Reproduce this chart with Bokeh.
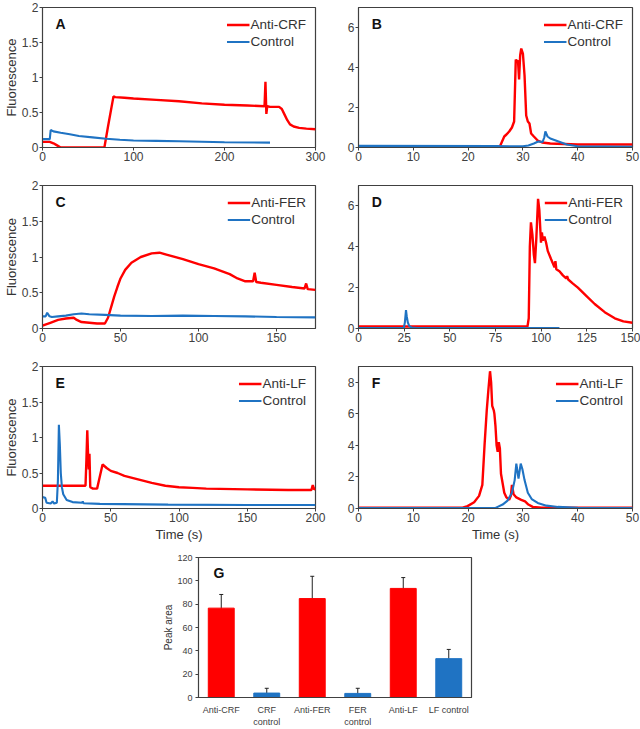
from bokeh.plotting import figure
from bokeh.models import (Range1d, FixedTicker, NumeralTickFormatter, Legend, LegendItem,
                          Label, ColumnDataSource, Whisker, FactorRange, TeeHead)
from bokeh.layouts import column, row
from bokeh.embed import file_html
from bokeh.resources import INLINE

# ---------------- data ----------------
# Panel A (Anti-CRF, long time scale)
A_red_x = [0, 8, 12, 16, 20, 68, 72, 78, 80, 90, 100, 125, 150, 175, 200, 225, 244, 245, 246, 247, 250, 258, 260, 263, 266, 269, 272, 276, 282, 290, 300]
A_red_y = [0.08, 0.08, 0.06, 0.03, 0.0, 0.0, 0.3, 0.73, 0.72, 0.71, 0.70, 0.68, 0.66, 0.63, 0.61, 0.60, 0.59, 0.94, 0.48, 0.59, 0.58, 0.58, 0.58, 0.55, 0.47, 0.39, 0.33, 0.30, 0.28, 0.27, 0.26]
A_blue_x = [0, 8, 9, 12, 20, 30, 40, 55, 70, 85, 100, 125, 150, 200, 250]
A_blue_y = [0.12, 0.12, 0.25, 0.23, 0.21, 0.19, 0.165, 0.145, 0.125, 0.11, 0.10, 0.095, 0.09, 0.075, 0.07]

# Panel B (Anti-CRF, short time scale)
B_red_x = [0, 25.8, 26.2, 26.6, 27.0, 27.5, 28.0, 28.4, 28.7, 28.9, 29.1, 29.3, 29.5, 29.7, 30.0, 30.3, 30.6, 30.9, 31.2, 31.5, 32.0, 32.7, 33.5, 35, 40, 50]
B_red_y = [0.02, 0.05, 0.3, 0.55, 0.65, 0.8, 1.0, 1.3, 4.4, 4.3, 4.35, 3.4, 4.6, 4.95, 4.7, 3.6, 1.6, 1.3, 1.2, 0.7, 0.55, 0.35, 0.25, 0.2, 0.15, 0.15]
B_blue_x = [0, 25, 30, 31, 32, 32.8, 33.6, 33.9, 34.1, 34.5, 35, 36, 37, 38, 40, 50]
B_blue_y = [0.08, 0.07, 0.06, 0.1, 0.2, 0.3, 0.28, 0.5, 0.8, 0.55, 0.45, 0.35, 0.25, 0.15, 0.06, 0.04]

# Panel C (Anti-FER, long time scale)
C_red_x = [0, 5, 10, 15, 20, 22, 25, 30, 35, 40, 42, 44, 46, 48, 50, 53, 57, 63, 70, 75, 80, 90, 100, 110, 120, 125, 130, 135, 136, 137, 140, 150, 160, 168, 169, 170, 175]
C_red_y = [0.04, 0.08, 0.12, 0.14, 0.15, 0.12, 0.09, 0.08, 0.07, 0.07, 0.15, 0.3, 0.45, 0.58, 0.7, 0.82, 0.92, 1.0, 1.05, 1.06, 1.03, 0.97, 0.9, 0.84, 0.76, 0.7, 0.66, 0.66, 0.78, 0.65, 0.64, 0.61, 0.58, 0.56, 0.63, 0.55, 0.54]
C_blue_x = [0, 2, 3, 4.5, 6, 10, 15, 20, 25, 30, 40, 50, 70, 90, 110, 130, 150, 175]
C_blue_y = [0.17, 0.17, 0.22, 0.17, 0.16, 0.17, 0.18, 0.2, 0.21, 0.2, 0.19, 0.18, 0.175, 0.18, 0.175, 0.17, 0.16, 0.155]

# Panel D (Anti-FER, short time scale)
D_red_x = [0, 92.5, 93.2, 93.8, 94.4, 95.2, 96, 96.6, 97.4, 98.3, 99.0, 99.9, 100.4, 100.9, 101.8, 102.7, 103.6, 105.4, 107.3, 107.8, 108.3, 110, 111.9, 113.7, 114.2, 114.8, 117.4, 120.1, 124.7, 129.3, 134.8, 140.3, 145, 150]
D_red_y = [0.1, 0.1, 0.5, 4.0, 5.2, 4.6, 3.6, 3.2, 4.5, 6.35, 5.8, 4.2, 4.7, 4.3, 4.5, 4.2, 3.8, 3.4, 3.0, 3.3, 2.9, 2.8, 2.6, 2.45, 2.56, 2.4, 2.2, 2.0, 1.6, 1.2, 0.8, 0.5, 0.35, 0.28]
D_blue_x = [0, 24.8, 25.4, 26.0, 26.4, 27.0, 27.8, 29, 32, 110]
D_blue_y = [0.02, 0.03, 0.3, 0.9, 0.6, 0.3, 0.12, 0.05, 0.02, 0.02]

# Panel E (Anti-LF, long time scale)
E_red_x = [0, 15, 31.5, 32.2, 32.8, 33.4, 33.9, 34.4, 35, 37, 40, 42, 44, 47, 50, 55, 60, 70, 80, 90, 100, 110, 120, 150, 180, 197, 198, 199, 200]
E_red_y = [0.32, 0.32, 0.32, 0.7, 1.1, 0.75, 0.55, 0.77, 0.3, 0.28, 0.28, 0.45, 0.62, 0.57, 0.53, 0.5, 0.46, 0.41, 0.36, 0.32, 0.3, 0.29, 0.28, 0.27, 0.26, 0.26, 0.33, 0.27, 0.28]
E_blue_x = [0, 2, 3, 6, 7.4, 8.5, 10.5, 11.3, 12.0, 12.7, 13.4, 14.2, 15.2, 17.7, 22, 29, 29.5, 30, 42, 92, 150, 200]
E_blue_y = [0.16, 0.15, 0.08, 0.07, 0.1, 0.07, 0.08, 0.4, 1.18, 0.9, 0.5, 0.3, 0.2, 0.12, 0.09, 0.08, 0.1, 0.075, 0.065, 0.055, 0.05, 0.05]

# Panel F (Anti-LF, short time scale)
F_red_x = [0, 19, 19.9, 21.1, 22.0, 22.6, 23.0, 23.4, 23.7, 24.0, 24.2, 24.4, 24.7, 24.8, 25.0, 25.2, 25.4, 25.6, 25.8, 26.0, 26.3, 26.6, 27.0, 27.5, 27.8, 28.0, 28.3, 28.8, 29.7, 30.4, 31.0, 31.8, 33.4, 50]
F_red_y = [0.05, 0.05, 0.15, 0.4, 0.8, 1.5, 4.0, 6.2, 7.5, 8.7, 8.0, 6.5, 6.2, 6.0, 5.2, 4.0, 3.6, 4.2, 3.8, 2.2, 1.6, 1.0, 0.7, 0.55, 0.8, 1.5, 0.9, 0.7, 0.55, 0.45, 0.25, 0.1, 0.05, 0.05]
F_blue_x = [0, 25, 25.4, 26.3, 27.2, 28.0, 28.5, 28.8, 29.2, 29.6, 29.9, 30.3, 30.9, 31.6, 32.7, 34.3, 36.4, 40, 50]
F_blue_y = [0.03, 0.03, 0.1, 0.25, 0.5, 1.0, 1.8, 2.85, 1.9, 2.85, 2.5, 1.8, 1.0, 0.6, 0.35, 0.18, 0.1, 0.05, 0.03]

# Panel G (peak areas)
G_cats = ["Anti-CRF", "CRF\ncontrol", "Anti-FER", "FER\ncontrol", "Anti-LF", "LF control"]
G_vals = [76.6, 3.8, 84.8, 3.5, 93.5, 33.3]
G_upper = [88.3, 7.9, 103.9, 7.9, 102.8, 41.2]
G_lower = [64.9, 0.0, 65.4, 0.0, 84.2, 25.6]
G_kind = ["anti", "control", "anti", "control", "anti", "control"]

# ---------------- style ----------------
RED = "#ff0000"
BLUE = "#1f73c3"
FONT = "Liberation Sans"
TXT = "#404040"
FRAME = "#404040"


def style_axes(p, tick_size="12px"):
    for ax in (p.xaxis[0], p.yaxis[0]):
        ax.major_label_text_font = FONT
        ax.major_label_text_font_size = tick_size
        ax.major_label_text_color = TXT
        ax.axis_label_text_font = FONT
        ax.axis_label_text_font_style = "normal"
        ax.axis_label_text_color = "#333333"
        ax.axis_line_color = FRAME
        ax.major_tick_line_color = FRAME
        ax.major_tick_in = 0
        ax.major_tick_out = 3
        ax.minor_tick_line_color = None
        ax.major_label_standoff = 1
    p.xgrid.grid_line_color = None
    p.ygrid.grid_line_color = None
    p.outline_line_color = FRAME
    p.outline_line_width = 1.2
    p.outline_line_alpha = 1


def panel(w, h, mb, xr, yr, xticks, yticks, letter, rx, ry, bx, by, red_label,
          ylabel=None, xlabel=None):
    p = figure(width=w, height=h, output_backend="svg", toolbar_location=None,
               x_range=Range1d(*xr), y_range=Range1d(*yr),
               min_border_left=mb[0], min_border_right=mb[1],
               min_border_top=mb[2], min_border_bottom=mb[3])
    style_axes(p)
    p.xaxis.ticker = FixedTicker(ticks=xticks)
    p.yaxis.ticker = FixedTicker(ticks=yticks)
    p.yaxis.formatter = NumeralTickFormatter(format="0.[0]")
    if ylabel:
        p.yaxis.axis_label = ylabel
        p.yaxis.axis_label_text_font_size = "13px"
        p.yaxis.axis_label_standoff = 0
    if xlabel:
        p.xaxis.axis_label = xlabel
        p.xaxis.axis_label_text_font_size = "13px"
        p.xaxis.axis_label_standoff = 2
    r1 = p.line(rx, ry, line_color=RED, line_width=2.4)
    r2 = p.line(bx, by, line_color=BLUE, line_width=2.1)
    leg = Legend(items=[LegendItem(label=red_label, renderers=[r1]),
                        LegendItem(label="Control", renderers=[r2])],
                 location="top_right", margin=9, padding=0, spacing=0,
                 glyph_width=23, glyph_height=17, label_height=17, label_standoff=1,
                 label_text_font=FONT, label_text_font_size="13.5px",
                 label_text_color="#333333",
                 border_line_alpha=0, background_fill_alpha=0)
    p.add_layout(leg)
    p.add_layout(Label(x=xr[0] + 0.048 * (xr[1] - xr[0]), y=yr[0] + 0.885 * (yr[1] - yr[0]),
                       text=letter, text_font=FONT, text_font_style="bold",
                       text_font_size="14px", text_color="#111111",
                       text_align="left", text_baseline="middle"))
    return p


LW, RW = 340, 300
LMB, RMB = (42, 25), (18, 8)

pA = panel(LW, 170, (LMB[0], LMB[1], 7, 23), (0, 300), (0, 2), [0, 100, 200, 300], [0, 0.5, 1, 1.5, 2],
           "A", A_red_x, A_red_y, A_blue_x, A_blue_y, "Anti-CRF", ylabel="Fluorescence")
pB = panel(RW, 170, (RMB[0], RMB[1], 7, 23), (0, 50), (0, 7), [0, 10, 20, 30, 40, 50], [0, 2, 4, 6],
           "B", B_red_x, B_red_y, B_blue_x, B_blue_y, "Anti-CRF")
pC = panel(LW, 180, (LMB[0], LMB[1], 15, 22), (0, 175), (0, 2), [0, 50, 100, 150], [0, 0.5, 1, 1.5, 2],
           "C", C_red_x, C_red_y, C_blue_x, C_blue_y, "Anti-FER", ylabel="Fluorescence")
pD = panel(RW, 180, (RMB[0], RMB[1], 15, 22), (0, 150), (0, 7), [0, 25, 50, 75, 100, 125, 150], [0, 2, 4, 6],
           "D", D_red_x, D_red_y, D_blue_x, D_blue_y, "Anti-FER")
pE = panel(LW, 195, (LMB[0], LMB[1], 16, 37), (0, 200), (0, 2), [0, 50, 100, 150, 200], [0, 0.5, 1, 1.5, 2],
           "E", E_red_x, E_red_y, E_blue_x, E_blue_y, "Anti-LF", ylabel="Fluorescence", xlabel="Time (s)")
pF = panel(RW, 195, (RMB[0], RMB[1], 16, 37), (0, 50), (0, 9), [0, 10, 20, 30, 40, 50], [0, 2, 4, 6, 8],
           "F", F_red_x, F_red_y, F_blue_x, F_blue_y, "Anti-LF", xlabel="Time (s)")

# ---------------- panel G ----------------
src = ColumnDataSource(dict(cats=G_cats, vals=G_vals, upper=G_upper, lower=G_lower,
                            color=[RED if k == "anti" else BLUE for k in G_kind]))
pG = figure(width=640, height=184, output_backend="svg", toolbar_location=None,
            x_range=FactorRange(factors=G_cats, range_padding=0), y_range=Range1d(0, 120),
            min_border_left=198, min_border_right=169, min_border_top=12, min_border_bottom=25)
style_axes(pG, tick_size="9px")
pG.xaxis.major_tick_line_color = None
pG.xaxis.major_label_standoff = 4
pG.yaxis.major_label_standoff = 3
pG.yaxis.ticker = FixedTicker(ticks=[0, 20, 40, 60, 80, 100, 120])
pG.yaxis.axis_label = "Peak area"
pG.yaxis.axis_label_text_font_size = "10px"
pG.yaxis.axis_label_standoff = 0
pG.vbar(x="cats", top="vals", width=0.57, source=src, fill_color="color", line_color="color")
pG.add_layout(Whisker(base="cats", upper="upper", lower="lower", source=src,
                      line_color="#222222", line_width=1,
                      upper_head=TeeHead(size=4, line_color="#222222", line_width=1),
                      lower_head=TeeHead(size=4, line_color="#222222", line_width=1)))
pG.add_layout(Label(x=0.33, y=107, text="G", text_font=FONT, text_font_style="bold",
                    text_font_size="14px", text_color="#111111",
                    text_align="left", text_baseline="middle"))

layout = column(row(pA, pB), row(pC, pD), row(pE, pF), pG)
open("out.html", "w").write(file_html(layout, INLINE))
